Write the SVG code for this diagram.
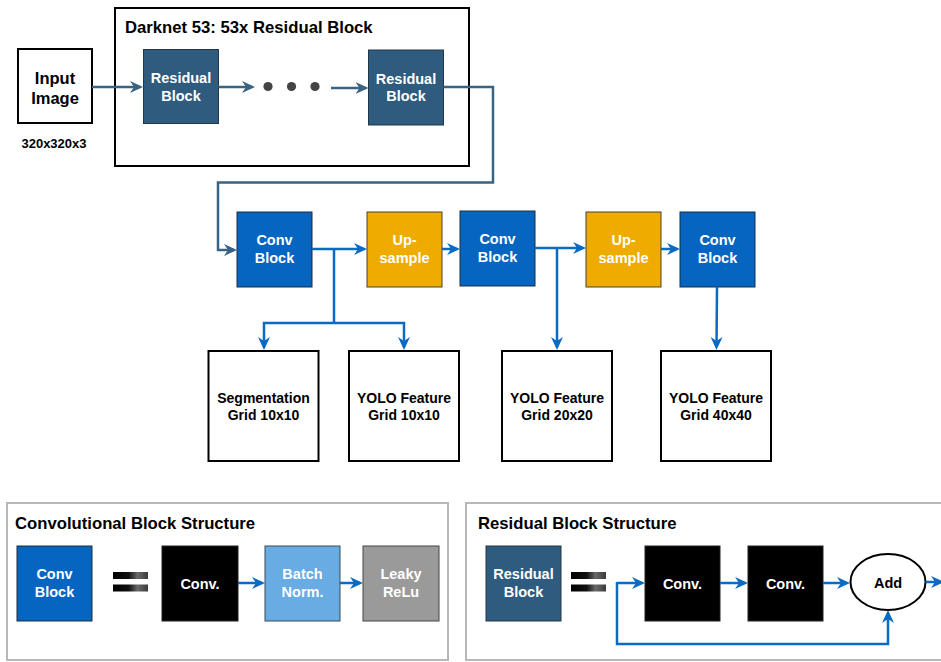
<svg xmlns="http://www.w3.org/2000/svg" width="941" height="662" viewBox="0 0 941 662">
  <style>
    text { font-family: "Liberation Sans", Arial, Helvetica, sans-serif; font-weight: bold; text-anchor: middle; }
    .title { font-size: 16.7px; text-anchor: start; fill: #000; }
    .lbl { font-size: 14.5px; fill: #fff; }
    .out { font-size: 14px; fill: #000; }
    .frame { fill: #fff; stroke: #000; stroke-width: 2; }
    .panel { fill: #fff; stroke: #b8b8b8; stroke-width: 2; }
    .res { fill: #2f5b7e; stroke: #22384a; stroke-width: 1; }
    .conv { fill: #0565c0; stroke: #1d2f40; stroke-width: 1; }
    .up { fill: #f0ab00; stroke: #4a4030; stroke-width: 1; }
    .blk { fill: #000; stroke: #222; stroke-width: 1; }
    .bn { fill: #68ace3; stroke: #3a4a58; stroke-width: 1; }
    .relu { fill: #9a9a9a; stroke: #444; stroke-width: 1; }
    .outbox { fill: #fff; stroke: #000; stroke-width: 2; }
    .steel { fill: none; stroke: #386384; stroke-width: 2.5; }
    .blue { fill: none; stroke: #0b6bc3; stroke-width: 2.5; }
  </style>
  <defs>
    <marker id="arrSteel" markerUnits="userSpaceOnUse" markerWidth="13" markerHeight="12" refX="10" refY="6" orient="auto">
      <path d="M0,0 L13,6 L0,12 L4,6 Z" fill="#386384"/>
    </marker>
    <marker id="arrBlue" markerUnits="userSpaceOnUse" markerWidth="13" markerHeight="12" refX="10" refY="6" orient="auto">
      <path d="M0,0 L13,6 L0,12 L4,6 Z" fill="#0b6bc3"/>
    </marker>
    <linearGradient id="eqGrad" x1="0" y1="0" x2="1" y2="0">
      <stop offset="0" stop-color="#000"/>
      <stop offset="0.45" stop-color="#111"/>
      <stop offset="0.7" stop-color="#6a6a6a"/>
      <stop offset="1" stop-color="#3a3a3a"/>
    </linearGradient>
  </defs>

  <!-- Darknet backbone frame -->
  <g id="darknet">
    <rect class="frame" x="115" y="8" width="354" height="158"/>
    <text class="title" x="125" y="33">Darknet 53: 53x Residual Block</text>
  </g>

  <g id="input-image">
    <rect class="frame" x="18" y="49" width="74" height="74"/>
    <text x="55" y="83.5" style="font-size:16.5px">Input</text>
    <text x="55" y="103.5" style="font-size:16.5px">Image</text>
    <text x="54" y="147.5" style="font-size:13px">320x320x3</text>
  </g>

  <g id="residual-1">
    <rect class="res" x="143.5" y="49.5" width="75" height="74"/>
    <text class="lbl" x="181" y="82.5">Residual</text>
    <text class="lbl" x="181" y="100.5">Block</text>
  </g>

  <g id="ellipsis">
    <circle cx="268" cy="86.5" r="4.6" fill="#444"/>
    <circle cx="291.5" cy="86.5" r="4.6" fill="#444"/>
    <circle cx="315" cy="86.5" r="4.6" fill="#444"/>
  </g>

  <g id="residual-2">
    <rect class="res" x="368.5" y="50" width="75" height="75"/>
    <text class="lbl" x="406" y="83.5">Residual</text>
    <text class="lbl" x="406" y="101">Block</text>
  </g>

  <!-- Detection head -->
  <g id="conv-1">
    <rect class="conv" x="237" y="212" width="75" height="75"/>
    <text class="lbl" x="274.5" y="245">Conv</text>
    <text class="lbl" x="274.5" y="263">Block</text>
  </g>
  <g id="upsample-1">
    <rect class="up" x="367" y="212" width="75" height="75"/>
    <text class="lbl" x="404.5" y="245">Up-</text>
    <text class="lbl" x="404.5" y="263">sample</text>
  </g>
  <g id="conv-2">
    <rect class="conv" x="460" y="211" width="75" height="75"/>
    <text class="lbl" x="497.5" y="244">Conv</text>
    <text class="lbl" x="497.5" y="262">Block</text>
  </g>
  <g id="upsample-2">
    <rect class="up" x="586" y="212" width="75" height="75"/>
    <text class="lbl" x="623.5" y="245">Up-</text>
    <text class="lbl" x="623.5" y="263">sample</text>
  </g>
  <g id="conv-3">
    <rect class="conv" x="680" y="212" width="75" height="75"/>
    <text class="lbl" x="717.5" y="245">Conv</text>
    <text class="lbl" x="717.5" y="263">Block</text>
  </g>

  <!-- Output grids -->
  <g id="seg-grid">
    <rect class="outbox" x="208.5" y="351" width="110" height="110"/>
    <text class="out" x="263.5" y="403">Segmentation</text>
    <text class="out" x="263.5" y="420">Grid 10x10</text>
  </g>
  <g id="yolo-10">
    <rect class="outbox" x="349" y="351" width="110" height="110"/>
    <text class="out" x="404" y="403">YOLO Feature</text>
    <text class="out" x="404" y="420">Grid 10x10</text>
  </g>
  <g id="yolo-20">
    <rect class="outbox" x="502" y="351" width="110" height="110"/>
    <text class="out" x="557" y="403">YOLO Feature</text>
    <text class="out" x="557" y="420">Grid 20x20</text>
  </g>
  <g id="yolo-40">
    <rect class="outbox" x="661" y="351" width="110" height="110"/>
    <text class="out" x="716" y="403">YOLO Feature</text>
    <text class="out" x="716" y="420">Grid 40x40</text>
  </g>

  <!-- Legend: convolutional block -->
  <g id="conv-structure">
    <rect class="panel" x="7" y="503" width="441" height="157"/>
    <text class="title" x="15" y="529">Convolutional Block Structure</text>
  </g>
  <g id="legend-conv">
    <rect class="conv" x="17" y="546" width="75" height="75"/>
    <text class="lbl" x="54.5" y="579">Conv</text>
    <text class="lbl" x="54.5" y="597">Block</text>
  </g>
  <g id="equals-1">
    <rect x="113" y="572" width="35" height="7" fill="url(#eqGrad)"/>
    <rect x="113" y="584.5" width="35" height="7" fill="url(#eqGrad)"/>
  </g>
  <g id="legend-conv-op">
    <rect class="blk" x="162" y="546" width="76" height="75"/>
    <text class="lbl" x="200" y="588.5">Conv.</text>
  </g>
  <g id="legend-batchnorm">
    <rect class="bn" x="265" y="546" width="75" height="75"/>
    <text class="lbl" x="302.5" y="579">Batch</text>
    <text class="lbl" x="302.5" y="597">Norm.</text>
  </g>
  <g id="legend-relu">
    <rect class="relu" x="363" y="546" width="76" height="75"/>
    <text class="lbl" x="401" y="579" fill="#f2f2f2">Leaky</text>
    <text class="lbl" x="401" y="597" fill="#f2f2f2">ReLu</text>
  </g>

  <!-- Legend: residual block -->
  <g id="res-structure">
    <rect class="panel" x="466" y="503" width="490" height="157"/>
    <text class="title" x="478" y="529">Residual Block Structure</text>
  </g>
  <g id="legend-res">
    <rect class="res" x="486" y="546" width="75" height="75"/>
    <text class="lbl" x="523.5" y="579">Residual</text>
    <text class="lbl" x="523.5" y="597">Block</text>
  </g>
  <g id="equals-2">
    <rect x="571" y="572" width="35" height="7" fill="url(#eqGrad)"/>
    <rect x="571" y="584.5" width="35" height="7" fill="url(#eqGrad)"/>
  </g>
  <g id="legend-res-conv-1">
    <rect class="blk" x="645" y="546" width="75" height="75"/>
    <text class="lbl" x="682.5" y="588.5">Conv.</text>
  </g>
  <g id="legend-res-conv-2">
    <rect class="blk" x="748" y="546" width="75" height="75"/>
    <text class="lbl" x="785.5" y="588.5">Conv.</text>
  </g>
  <g id="legend-add">
    <ellipse cx="888" cy="582" rx="37.5" ry="28" fill="#fff" stroke="#000" stroke-width="2"/>
    <text x="888" y="588" style="font-size:14.5px" fill="#000">Add</text>
  </g>

  <!-- Connectors -->
  <g id="connectors">
    <path class="steel" d="M92,87 H140" marker-end="url(#arrSteel)"/>
    <path class="steel" d="M218.5,87 H252" marker-end="url(#arrSteel)"/>
    <path class="steel" d="M331,88 H365.5" marker-end="url(#arrSteel)"/>
    <path class="steel" d="M443.5,87 H493 V182.5 H218 V250 H234" marker-end="url(#arrSteel)"/>

    <path class="blue" d="M312,249 H364" marker-end="url(#arrBlue)"/>
    <path class="blue" d="M334,249 V323"/>
    <path class="blue" d="M334,323 H264 V347" marker-end="url(#arrBlue)"/>
    <path class="blue" d="M334,323 H404 V347" marker-end="url(#arrBlue)"/>
    <path class="blue" d="M442,249 H457" marker-end="url(#arrBlue)"/>
    <path class="blue" d="M535,248 H583" marker-end="url(#arrBlue)"/>
    <path class="blue" d="M557,248 V347" marker-end="url(#arrBlue)"/>
    <path class="blue" d="M661,249 H677" marker-end="url(#arrBlue)"/>
    <path class="blue" d="M717,287 L716.5,347" marker-end="url(#arrBlue)"/>

    <path class="blue" d="M238,583 H262" marker-end="url(#arrBlue)"/>
    <path class="blue" d="M340,583 H360" marker-end="url(#arrBlue)"/>

    <path class="blue" d="M617,583 H642" marker-end="url(#arrBlue)"/>
    <path class="blue" d="M617,582 V644 H888 V613" marker-end="url(#arrBlue)"/>
    <path class="blue" d="M720,583 H745" marker-end="url(#arrBlue)"/>
    <path class="blue" d="M823,583 H847" marker-end="url(#arrBlue)"/>
    <path class="blue" d="M925.5,582 H941" marker-end="url(#arrBlue)"/>
  </g>
</svg>
